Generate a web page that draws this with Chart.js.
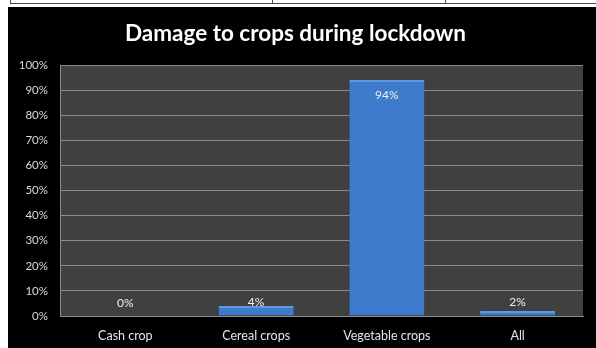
<!DOCTYPE html>
<html>
<head>
<meta charset="utf-8">
<script src="https://cdn.jsdelivr.net/npm/chart.js@4/dist/chart.umd.min.js"></script>
<style>
  html, body { margin: 0; padding: 0; background: #ffffff; }
  body { width: 596px; height: 348px; position: relative; overflow: hidden; }
  .rule { position: absolute; background: #4a4a4a; }
  #panel { position: absolute; left: 8px; top: 7px; width: 588px; height: 341px; background: #000000; }
</style>
</head>
<body>
<!-- table rules above the chart -->
<div class="rule" style="left:10px; top:3px; width:586px; height:1px;"></div>
<div class="rule" style="left:10px; top:0px; width:1px; height:4px;"></div>
<div class="rule" style="left:272px; top:0px; width:1px; height:4px;"></div>
<div class="rule" style="left:445px; top:0px; width:1px; height:4px;"></div>
<div id="panel"><canvas id="chart" width="588" height="341"></canvas></div>
<script>
const chartTitle = 'Damage to crops during lockdown';
const categories = ['Cash crop', 'Cereal crops', 'Vegetable crops', 'All'];
const damagePercent = [0, 4, 94, 2];
const yTicks = [0, 10, 20, 30, 40, 50, 60, 70, 80, 90, 100];

const FONT = 'Lato, "Open Sans", "DejaVu Sans", sans-serif';

// Dark plot background behind the bars
const plotBackground = {
  id: 'plotBackground',
  beforeDraw(chart) {
    const { ctx, chartArea: a } = chart;
    ctx.save();
    ctx.fillStyle = '#404040';
    ctx.fillRect(a.left, a.top, a.right - a.left, a.bottom - a.top);
    ctx.restore();
  }
};

// Value labels: inside the top of tall bars, just above the axis for short ones
const valueLabels = {
  id: 'valueLabels',
  afterDatasetsDraw(chart) {
    const { ctx } = chart;
    const meta = chart.getDatasetMeta(0);
    ctx.save();
    ctx.font = '12px ' + FONT;
    ctx.fillStyle = '#eeeeee';
    ctx.textAlign = 'center';
    ctx.textBaseline = 'middle';
    meta.data.forEach((bar, i) => {
      const y = Math.min(bar.y + 15, bar.base - 13);
      ctx.fillText(damagePercent[i] + '%', bar.x, y);
    });
    ctx.restore();
  }
};

function barFill(context) {
  const chart = context.chart;
  const el = context.element;
  if (!chart.chartArea || !el || !Number.isFinite(el.x) || !Number.isFinite(el.width)) return '#3f7bcc';
  const half = el.width / 2;
  const g = chart.ctx.createLinearGradient(el.x - half, 0, el.x + half, 0);
  g.addColorStop(0, '#2c5fa6');
  g.addColorStop(0.1, '#3a74c2');
  g.addColorStop(0.5, '#3f7dcd');
  g.addColorStop(0.9, '#3a74c2');
  g.addColorStop(1, '#2c5fa6');
  return g;
}

new Chart(document.getElementById('chart'), {
  type: 'bar',
  data: {
    labels: categories,
    datasets: [{
      data: damagePercent,
      backgroundColor: barFill,
      borderColor: '#5c9ae6',
      borderWidth: { top: 2, left: 0, right: 0, bottom: 0 },
      borderSkipped: false,
      categoryPercentage: 1,
      barPercentage: 0.574
    }]
  },
  options: {
    responsive: false,
    animation: false,
    devicePixelRatio: 1,
    layout: { padding: { top: 0, left: 0, right: 13, bottom: 0 } },
    plugins: {
      legend: { display: false },
      tooltip: { enabled: false },
      title: {
        display: true,
        text: chartTitle,
        color: '#ffffff',
        font: { family: FONT, size: 22.5, weight: 'bold', lineHeight: 1.2 },
        padding: { top: 13, bottom: 18 }
      }
    },
    scales: {
      x: {
        grid: { display: false, drawTicks: false },
        border: { display: true, color: '#8c8c8c', width: 1 },
        ticks: { color: '#e6e6e6', font: { family: FONT, size: 12.5 }, padding: 12 },
        afterFit(scale) { scale.height = 32; }
      },
      y: {
        min: 0,
        max: 100,
        afterBuildTicks(scale) { scale.ticks = yTicks.map(v => ({ value: v })); },
        grid: { color: '#8a8a8a', lineWidth: 1, drawTicks: false },
        border: { display: true, color: '#8c8c8c', width: 1 },
        ticks: {
          color: '#d9d9d9',
          font: { family: FONT, size: 11.5 },
          padding: 12,
          callback: v => v + '%'
        },
        afterFit(scale) { scale.width = 52; }
      }
    }
  },
  plugins: [plotBackground, valueLabels]
});
</script>
</body>
</html>
